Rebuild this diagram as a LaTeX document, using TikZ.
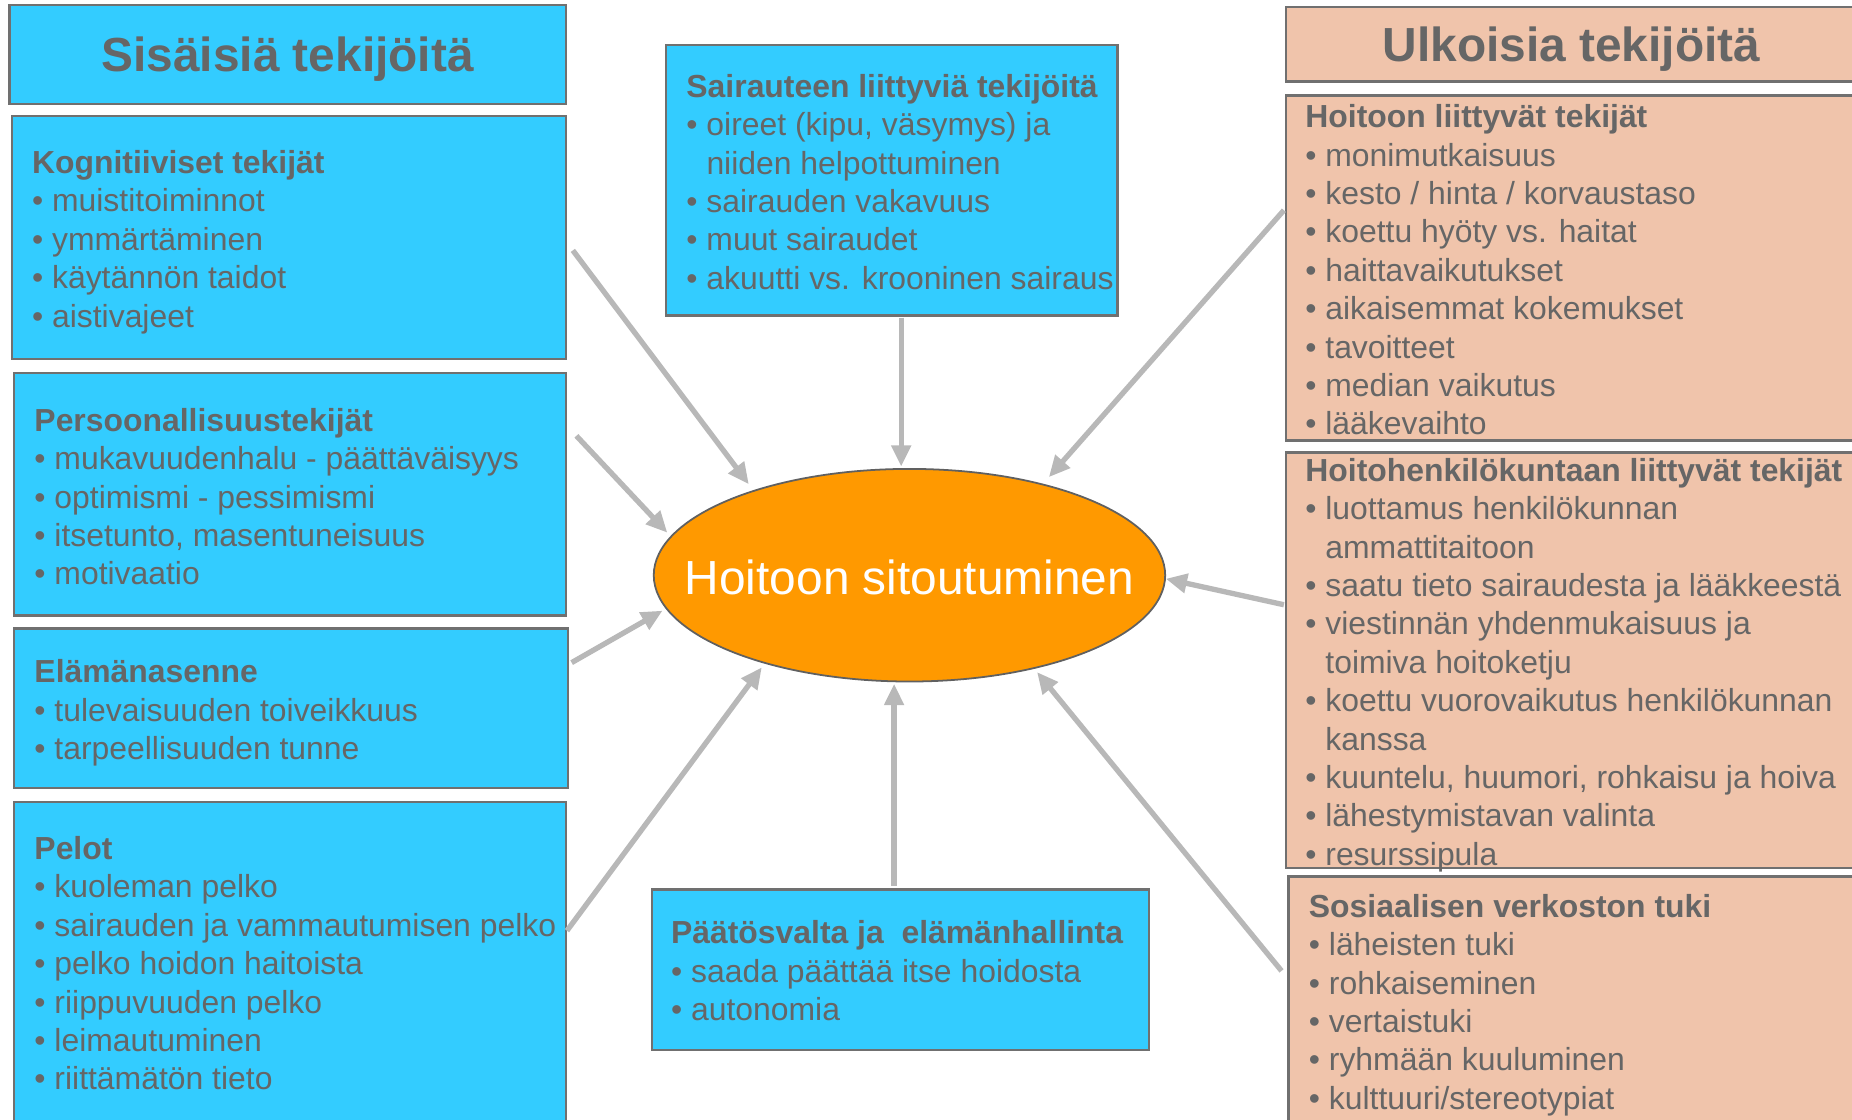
\documentclass[tikz,border=0pt]{standalone}
\usepackage{fontspec}
\setmainfont{Liberation Sans}
\usetikzlibrary{arrows.meta,shapes.geometric}
\definecolor{bluefill}{HTML}{33CCFF}
\definecolor{peach}{HTML}{F0C4AB}
\definecolor{orng}{HTML}{FF9900}
\definecolor{bordr}{HTML}{707070}
\definecolor{ellbordr}{HTML}{606060}
\definecolor{arrowc}{HTML}{B8B8B8}
\definecolor{txtc}{HTML}{666666}
\newcommand\ind{\hphantom{•\ }}
\begin{document}
\begin{tikzpicture}[x=1pt,y=-1pt,
  box/.style={draw=bordr,line width=2pt,rectangle,inner sep=0pt},
  bbox/.style={box,fill=bluefill},
  pbox/.style={box,fill=peach},
  body/.style={anchor=west,align=left,inner sep=0pt,yshift=-4pt,text=txtc,font=\fontsize{27}{32.5}\selectfont},
  ttl/.style={inner sep=0pt,yshift=-4pt,text=txtc,font=\fontsize{40.5}{48}\selectfont\bfseries},
  arr/.style={draw=arrowc,line width=4.5pt,-{Triangle[length=18pt,width=16pt]}}]
\useasboundingbox (0,0) rectangle (1568,948);
\clip (0,0) rectangle (1568,948);

% left column
\node[bbox,minimum width=471pt,minimum height=84pt] (tin) at (243.5,46) {};
\node[ttl] (tint) at (tin.center) {Sisäisiä tekijöitä};
\node[bbox,minimum width=469pt,minimum height=206pt] (kog) at (244.5,201) {};
\node[body] (kogt) at ([xshift=18pt]kog.west) {\textbf{Kognitiiviset tekijät}\\• muistitoiminnot\\• ymmärtäminen\\• käytännön taidot\\• aistivajeet};
\node[bbox,minimum width=467pt,minimum height=205pt] (per) at (245.5,418.5) {};
\node[body,yshift=2pt] (pert) at ([xshift=18pt]per.west) {\textbf{Persoonallisuustekijät}\\• mukavuudenhalu - päättäväisyys\\• optimismi - pessimismi\\• itsetunto, masentuneisuus\\• motivaatio};
\node[bbox,minimum width=469pt,minimum height=135pt] (ela) at (246.5,599.5) {};
\node[body] (elat) at ([xshift=18pt]ela.west) {\textbf{Elämänasenne}\\• tulevaisuuden toiveikkuus\\• tarpeellisuuden tunne};
\node[bbox,minimum width=467pt,minimum height=273pt] (pel) at (245.5,815.5) {};
\node[body,yshift=4pt] (pelt) at ([xshift=18pt]pel.west) {\textbf{Pelot}\\• kuoleman pelko\\• sairauden ja vammautumisen pelko\\• pelko hoidon haitoista\\• riippuvuuden pelko\\• leimautuminen\\• riittämätön tieto};

% middle
\node[bbox,minimum width=382pt,minimum height=229pt] (sai) at (755,152.5) {};
\node[body,yshift=2.5pt] (sait) at ([xshift=18pt]sai.west) {\textbf{Sairauteen liittyviä tekijöitä}\\• oireet (kipu, väsymys) ja\\\ind niiden helpottuminen\\• sairauden vakavuus\\• muut sairaudet\\• akuutti vs. krooninen sairaus};
\node[bbox,minimum width=421pt,minimum height=136pt] (paa) at (762.5,821) {};
\node[body,yshift=3pt] (paat) at ([xshift=17pt]paa.west) {\textbf{Päätösvalta ja\ \ elämänhallinta}\\• saada päättää itse hoidosta\\• autonomia};

% right column
\node[pbox,minimum width=483pt,minimum height=63pt] (tout) at (1330.5,37.5) {};
\node[ttl] (toutt) at (tout.center) {Ulkoisia tekijöitä};
\node[pbox,minimum width=483pt,minimum height=292pt] (hoi) at (1330.5,227) {};
\node[body,yshift=2.5pt] (hoit) at ([xshift=17pt]hoi.west) {\textbf{Hoitoon liittyvät tekijät}\\• monimutkaisuus\\• kesto / hinta / korvaustaso\\• koettu hyöty vs. haitat\\• haittavaikutukset\\• aikaisemmat kokemukset\\• tavoitteet\\• median vaikutus\\• lääkevaihto};
\node[pbox,minimum width=483pt,minimum height=352pt] (hen) at (1330.5,559) {};
\node[body] (hent) at ([xshift=17pt]hen.west) {\textbf{Hoitohenkilökuntaan liittyvät tekijät}\\• luottamus henkilökunnan\\\ind ammattitaitoon\\• saatu tieto sairaudesta ja lääkkeestä\\• viestinnän yhdenmukaisuus ja\\\ind toimiva hoitoketju\\• koettu vuorovaikutus henkilökunnan\\\ind kanssa\\• kuuntelu, huumori, rohkaisu ja hoiva\\• lähestymistavan valinta\\• resurssipula};
\node[pbox,minimum width=481pt,minimum height=212pt] (sos) at (1331.5,848) {};
\node[body,yshift=1pt] (sost) at ([xshift=18pt]sos.west) {\textbf{Sosiaalisen verkoston tuki}\\• läheisten tuki\\• rohkaiseminen\\• vertaistuki\\• ryhmään kuuluminen\\• kulttuuri/stereotypiat};

% centre
\node[ellipse,draw=ellbordr,line width=1.5pt,fill=orng,minimum width=433pt,minimum height=180pt,inner sep=0pt] (ell) at (770,487) {};
\node[inner sep=0pt,yshift=-2pt,text=white,font=\fontsize{40.5}{48}\selectfont] (ellt) at (ell.center) {Hoitoon sitoutuminen};

% arrows
\draw[arr] ([shift={(5,11)}]kog.east) -- ([shift={(-136,-77)}]ell.center);
\draw[arr] ([shift={(8,-49.5)}]per.east) -- ([shift={(-205,-36)}]ell.center);
\draw[arr] ([shift={(2,-38.5)}]ela.east) -- ([shift={(-209,30)}]ell.center);
\draw[arr] ([shift={(0,-27.5)}]pel.east) -- ([shift={(-125,78)}]ell.center);
\draw[arr] ([shift={(8,1)}]sai.south) -- ([shift={(-7,-92)}]ell.center);
\draw[arr] ([shift={(-5.5,-2)}]paa.north) -- ([shift={(-13,92)}]ell.center);
\draw[arr] ([shift={(-1,-49)}]hoi.west) -- ([shift={(118,-83)}]ell.center);
\draw[arr] ([shift={(-1,-47)}]hen.west) -- ([shift={(217,3)}]ell.center);
\draw[arr] ([shift={(-5,-26)}]sos.west) -- ([shift={(108,82)}]ell.center);
\end{tikzpicture}
\end{document}
